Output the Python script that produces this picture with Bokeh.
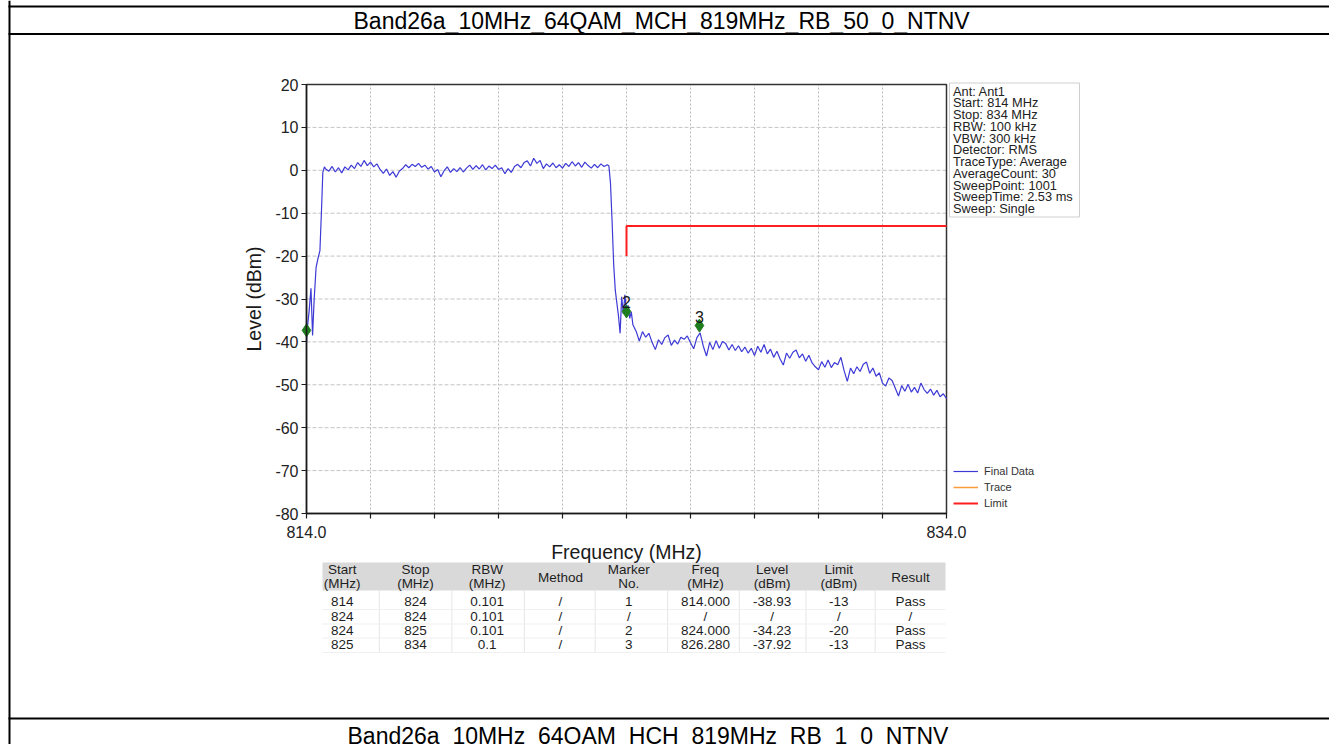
from bokeh.plotting import figure
from bokeh.models import (Range1d, FixedTicker, Legend, LegendItem, LinearAxis,
                          CustomJSTickFormatter)
from bokeh.core.properties import value
from bokeh.embed import file_html
from bokeh.resources import INLINE

# ---------------- data ----------------
page_title = "Band26a_10MHz_64QAM_MCH_819MHz_RB_50_0_NTNV"
next_title = "Band26a_10MHz_64QAM_HCH_819MHz_RB_1_0_NTNV"

freq_mhz = [
    814.00, 814.03, 814.08, 814.14, 814.19, 814.24, 814.30, 814.36, 814.42, 814.47, 814.51, 814.56,
    814.6, 814.7, 814.8, 814.9, 815.0, 815.1, 815.2, 815.3, 815.4, 815.5,
    815.6, 815.7, 815.8, 815.9, 816.0, 816.1, 816.2, 816.3, 816.4, 816.5,
    816.6, 816.7, 816.8, 816.9, 817.0, 817.1, 817.2, 817.3, 817.4, 817.5,
    817.6, 817.7, 817.8, 817.9, 818.0, 818.1, 818.2, 818.3, 818.4, 818.5,
    818.6, 818.7, 818.8, 818.9, 819.0, 819.1, 819.2, 819.3, 819.4, 819.5,
    819.6, 819.7, 819.8, 819.9, 820.0, 820.1, 820.2, 820.3, 820.4, 820.5,
    820.6, 820.7, 820.8, 820.9, 821.0, 821.1, 821.2, 821.3, 821.4, 821.5,
    821.6, 821.7, 821.8, 821.9, 822.0, 822.1, 822.2, 822.3, 822.4, 822.5,
    822.6, 822.7, 822.8, 822.9, 823.0, 823.1, 823.2, 823.3, 823.4,
    823.45, 823.50, 823.55, 823.60, 823.65, 823.70, 823.75, 823.80,
    823.85, 823.90, 823.95, 824.00, 824.05, 824.10, 824.15, 824.20,
    824.3, 824.4, 824.5, 824.6, 824.7, 824.8, 824.9, 825.0, 825.1, 825.2,
    825.3, 825.4, 825.5, 825.6, 825.7, 825.8, 825.9, 826.0, 826.1, 826.2,
    826.3, 826.4, 826.5, 826.6, 826.7, 826.8, 826.9, 827.0, 827.1, 827.2,
    827.3, 827.4, 827.5, 827.6, 827.7, 827.8, 827.9, 828.0, 828.1, 828.2,
    828.3, 828.4, 828.5, 828.6, 828.7, 828.8, 828.9, 829.0, 829.1, 829.2,
    829.3, 829.4, 829.5, 829.6, 829.7, 829.8, 829.9, 830.0, 830.1, 830.2,
    830.3, 830.4, 830.5, 830.6, 830.7, 830.8, 830.9, 831.0, 831.1, 831.2,
    831.3, 831.4, 831.5, 831.6, 831.7, 831.8, 831.9, 832.0, 832.1, 832.2,
    832.3, 832.4, 832.5, 832.6, 832.7, 832.8, 832.9, 833.0, 833.1, 833.2,
    833.3, 833.4, 833.5, 833.6, 833.7, 833.8, 833.9, 834.0,
]
level_dbm = [
    -40.0, -36.5, -33.0, -27.5, -38.5, -30.0, -22.6, -20.5, -18.7, -9.0, -0.5, 0.8,
    0.3, -0.2, 0.9, -0.4, 0.6, -0.6, 0.8, 0.1, 1.2, 0.4,
    1.8, 0.9, 2.3, 1.1, 1.9, 0.8, 1.5, 0.2, -0.7, 0.3,
    -1.2, -0.3, -1.6, -0.2, 0.4, 1.3, 0.6, 1.4, 0.9, 1.6,
    0.7, 1.2, 0.3, 0.9, -0.4, 0.2, -1.5, -0.1, 0.8, -0.5,
    0.4, -0.3, 0.6, -0.4, 0.5, 1.2, 0.2, 1.1, 0.3, 1.3,
    0.1, 1.0, 0.4, 1.2, 0.2, 0.6, -0.8, 0.4, -0.5, 0.9,
    1.4, 0.6, 1.8, 2.2, 1.0, 2.8, 1.6, 2.3, 0.4, 1.5,
    0.8, 1.7, 0.6, 1.3, 0.5, 1.6, 0.9, 2.0, 1.0, 1.8,
    0.7, 1.9, 1.1, 0.5, 1.4, 0.6, 1.5, 0.9, 1.3,
    1.0, -3.0, -12.0, -22.0, -28.0, -31.0, -34.0, -38.0,
    -29.5, -33.5, -29.0, -33.0, -31.5, -34.5, -33.0, -36.0,
    -37.5, -39.8, -37.6, -38.9, -38.0, -40.1, -41.8, -39.5, -40.6, -39.0,
    -38.4, -40.8, -39.6, -40.5, -38.9, -39.4, -38.6, -40.2, -41.6, -39.0,
    -37.9, -41.0, -43.3, -40.1, -41.8, -39.7, -41.5, -39.9, -40.4, -41.9,
    -40.6, -42.0, -40.9, -42.3, -41.2, -42.6, -41.5, -43.2, -41.0, -42.4,
    -40.6, -42.8, -41.7, -43.6, -42.2, -44.0, -45.4, -42.6, -43.8, -42.4,
    -41.9, -43.7, -42.8, -44.5, -43.1, -44.9, -45.8, -46.5, -44.6, -45.9,
    -44.2, -46.0, -44.8, -45.3, -43.6, -46.7, -49.2, -46.1, -47.4, -45.8,
    -46.9, -45.2, -44.7, -47.3, -46.1, -48.0, -47.2, -49.6, -50.3, -48.4,
    -49.0, -50.8, -52.6, -50.2, -51.5, -49.9, -51.7, -50.6, -51.9, -49.6,
    -51.1, -52.0, -51.0, -52.4, -51.3, -52.8, -52.1, -53.2,
]
assert len(freq_mhz) == len(level_dbm)

# the "Trace" series is not visible in the picture (only its legend entry is)
trace_freq = [814.0]
trace_level = [float("nan")]

limit_freq = [824.0, 824.0, 834.0]
limit_level = [-20.0, -13.0, -13.0]

marker_no = [1, 2, 3]
marker_freq = [814.0, 824.0, 826.28]
marker_level = [-37.3, -32.9, -36.2]

x_ticks = [814, 816, 818, 820, 822, 824, 826, 828, 830, 832, 834]
x_labelled = [814, 834]
y_ticks = [-80, -70, -60, -50, -40, -30, -20, -10, 0, 10, 20]

info_lines = ["Ant: Ant1", "Start: 814 MHz", "Stop: 834 MHz", "RBW: 100 kHz", "VBW: 300 kHz",
              "Detector: RMS", "TraceType: Average", "AverageCount: 30", "SweepPoint: 1001",
              "SweepTime: 2.53 ms", "Sweep: Single"]

legend_labels = ["Final Data", "Trace", "Limit"]

table_headers = [["Start", "(MHz)"], ["Stop", "(MHz)"], ["RBW", "(MHz)"], ["Method"],
                 ["Marker", "No."], ["Freq", "(MHz)"], ["Level", "(dBm)"], ["Limit", "(dBm)"], ["Result"]]
table_rows = [
    ["814", "824", "0.101", "/", "1", "814.000", "-38.93", "-13", "Pass"],
    ["824", "824", "0.101", "/", "/", "/", "/", "/", "/"],
    ["824", "825", "0.101", "/", "2", "824.000", "-34.23", "-20", "Pass"],
    ["825", "834", "0.1", "/", "3", "826.280", "-37.92", "-13", "Pass"],
]

# ---------------- layout / style ----------------
FONT = "Liberation Sans"
W, H = 1329, 744
X0, X1 = x_ticks[0], x_ticks[-1]
Y0, Y1 = y_ticks[0], y_ticks[-1]
PX_L, PX_R = 306.0, 946.0      # chart box on the page (pixels)
PY_T, PY_B = 84.0, 513.0
kx = (PX_R - PX_L) / (X1 - X0)
ky = (PY_B - PY_T) / (Y1 - Y0)
TRACE_C = "#3d3ad6"
LIMIT_C = "#ff1f1f"
TRACE2_C = "#ff9a3c"
MARK_C = "#1e7d1e"
INK = "#1e1e1e"

# the frame covers the whole page; the data ranges are set so that the chart box
# lands where it is in the page, the page-pixel ranges are used for the page furniture
p = figure(width=W, height=H, min_border=0, title=None, toolbar_location=None,
           output_backend="svg", x_axis_type=None, y_axis_type=None,
           x_range=Range1d(X0 - PX_L / kx, X0 + (W - PX_L) / kx),
           y_range=Range1d(Y1 - (H - PY_T) / ky, Y1 + PY_T / ky),
           background_fill_color="white", border_fill_color="white", outline_line_color=None)
p.extra_x_ranges = {"px": Range1d(0, W)}
p.extra_y_ranges = {"py": Range1d(H, 0)}
PG = dict(x_range_name="px", y_range_name="py")

def rect(x0, x1, y0, y1, color, line=None, lw=1):
    p.quad(left=[x0], right=[x1], top=[y0], bottom=[y1], fill_color=color,
           line_color=line, line_width=lw, **PG)

def txt(texts, xs, ys, size, align="center", baseline="middle", color=INK):
    p.text(x=xs, y=ys, text=texts, text_align=align, text_baseline=baseline,
           text_font=value(FONT), text_font_size=size, text_color=color, **PG)

# page (document table) borders and titles
rect(8, 10, 0, H, "black")
rect(8, W, 5, 7, "black")
rect(8, W, 32.5, 34.5, "black")
rect(8, W, 717, 719, "black")
txt([page_title], [353], [20.5], "23px", align="left", color="black")
txt([next_title], [347], [735.5], "23px", align="left", color="black")

# chart grid (dashed) and box
p.segment(x0=x_ticks, y0=[Y0] * len(x_ticks), x1=x_ticks, y1=[Y1] * len(x_ticks),
          line_color="#a8a8a8", line_dash="2 2", line_width=0.8)
p.segment(x0=[X0] * len(y_ticks), y0=y_ticks, x1=[X1] * len(y_ticks), y1=y_ticks,
          line_color="#c4c4c4", line_dash="4 2", line_width=1.0)
p.quad(left=[X0], right=[X1], bottom=[Y0], top=[Y1], fill_color=None,
       line_color="#333333", line_width=1.5)

# axes fixed on the chart box
xaxis = LinearAxis(fixed_location=Y0, bounds=(X0, X1), ticker=FixedTicker(ticks=x_ticks),
                   formatter=CustomJSTickFormatter(args=dict(lab=x_labelled),
                                                   code="return lab.includes(tick) ? tick.toFixed(1) : '';"),
                   axis_label="Frequency (MHz)")
yaxis = LinearAxis(fixed_location=X0, bounds=(Y0, Y1), ticker=FixedTicker(ticks=y_ticks),
                   formatter=CustomJSTickFormatter(code="return tick.toFixed(0);"),
                   axis_label="Level (dBm)")
for ax in (xaxis, yaxis):
    ax.major_tick_out = 5
    ax.major_tick_in = 0
    ax.minor_tick_out = 0
    ax.minor_tick_in = 0
    ax.axis_line_color = "#1a1a1a"
    ax.axis_line_width = 1.5
    ax.major_tick_line_color = "#1a1a1a"
    ax.major_tick_line_width = 1.2
    ax.major_label_text_font = FONT
    ax.major_label_text_font_size = "16px"
    ax.major_label_text_color = "#222222"
    ax.axis_label_text_font = FONT
    ax.axis_label_text_font_size = "19.5px"
    ax.axis_label_text_font_style = "normal"
    ax.axis_label_text_color = "#1a1a1a"
xaxis.major_label_standoff = 7
yaxis.major_label_standoff = 3
xaxis.axis_label_standoff = 0
yaxis.axis_label_standoff = 7
p.add_layout(xaxis, "below")
p.add_layout(yaxis, "left")

# series
r_trace = p.line(x=trace_freq, y=trace_level, line_color=TRACE2_C, line_width=1.5)
r_final = p.line(x=freq_mhz, y=level_dbm, line_color=TRACE_C, line_width=1.2)
r_limit = p.line(x=limit_freq, y=limit_level, line_color=LIMIT_C, line_width=2)
p.scatter(x=marker_freq, y=marker_level, marker="diamond", size=13, fill_color=MARK_C,
          line_color=MARK_C)
vis = [i for i, f in enumerate(marker_freq) if f > X0]
p.text(x=[marker_freq[i] for i in vis], y=[marker_level[i] for i in vis],
       text=[str(marker_no[i]) for i in vis], text_align="center", text_baseline="alphabetic",
       y_offset=-9, text_font=value(FONT), text_font_size="16px", text_color="#1a1a1a")

# legend at the bottom right of the chart box
legend = Legend(items=[LegendItem(label=legend_labels[0], renderers=[r_final]),
                       LegendItem(label=legend_labels[1], renderers=[r_trace]),
                       LegendItem(label=legend_labels[2], renderers=[r_limit])],
                location=(953, H - 511), margin=0, padding=2, spacing=0,
                glyph_width=25, glyph_height=16, label_height=16, label_standoff=6,
                label_text_font=FONT, label_text_font_size="11px", label_text_color="#333333",
                border_line_color=None, background_fill_color="white", background_fill_alpha=1)
p.add_layout(legend)

# info box
rect(949, 1079, 82.5, 216.5, "white", line="#cfcfcf")
txt(info_lines, [952.5] * len(info_lines), [90.7 + 11.74 * i for i in range(len(info_lines))],
    "12.8px", align="left", color="#222222")

# table
col_x = [341.7, 415, 486.7, 560, 628.3, 705, 771.7, 838.3, 910]
head_y2 = [569, 583]
head_y1 = 577
row_y = [601, 615.5, 630, 644]
rect(322, 945, 562, 590, "#d9d9d9")
for i in range(len(col_x) - 1):
    xm = (col_x[i] + col_x[i + 1]) / 2
    rect(xm, xm + 1, 590, 652, "#e6e6e6")
for yb in (608.5, 623, 637, 651.5):
    rect(322, 945, yb, yb + 1, "#f0f0f0")
ht, hx, hy = [], [], []
for cx, hd in zip(col_x, table_headers):
    if len(hd) == 2:
        for t, yy in zip(hd, head_y2):
            ht.append(t); hx.append(cx); hy.append(yy)
    else:
        ht.append(hd[0]); hx.append(cx); hy.append(head_y1)
txt(ht, hx, hy, "13.5px")
ct, cxs, cys = [], [], []
for row, yy in zip(table_rows, row_y):
    for cx, t in zip(col_x, row):
        ct.append(t); cxs.append(cx); cys.append(yy)
txt(ct, cxs, cys, "13.5px")

open("out.html", "w").write(file_html(p, INLINE))
